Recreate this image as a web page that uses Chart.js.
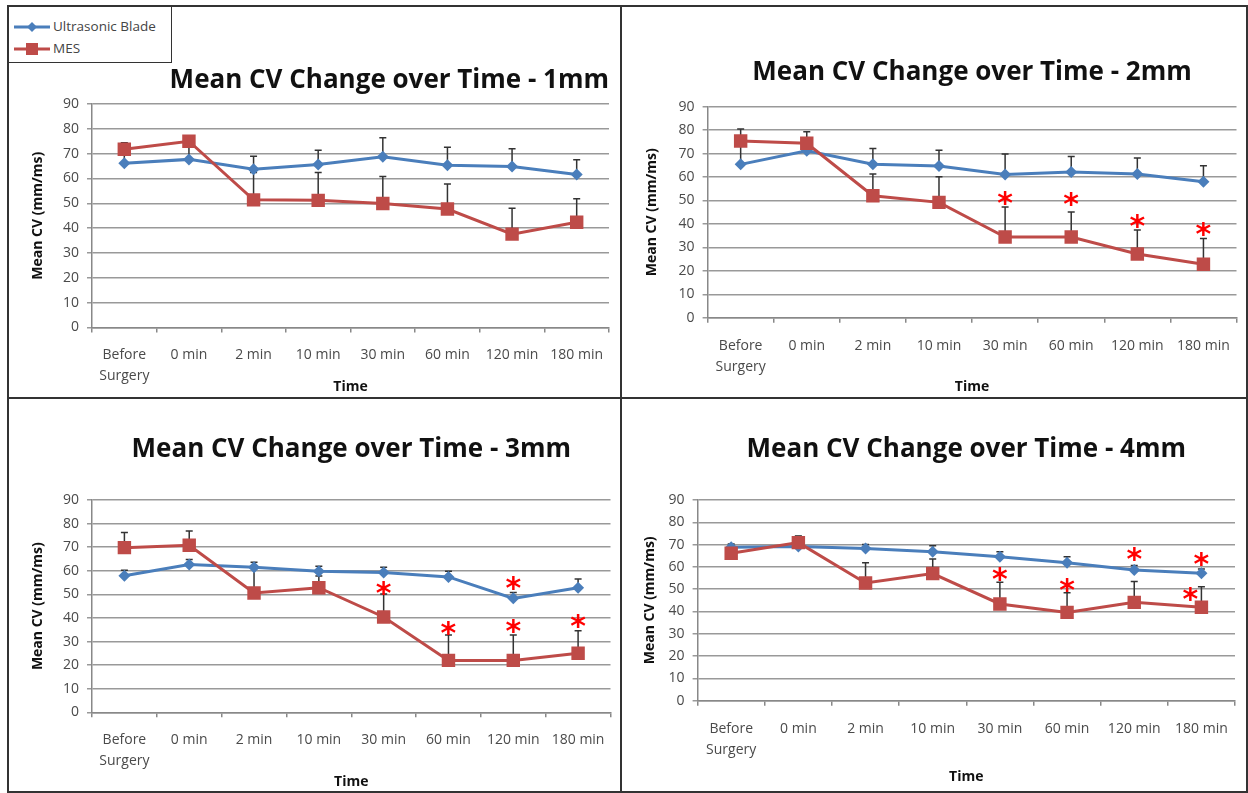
<!DOCTYPE html>
<html>
<head>
<meta charset="utf-8">
<script src="https://cdn.jsdelivr.net/npm/chart.js@4.4.1/dist/chart.umd.min.js"></script>
<style>
body { margin: 0; background: #fff; width: 1248px; height: 793px; position: relative; overflow: hidden; font-family: "Open Sans", sans-serif; }
canvas { position: absolute; }
.rule { position: absolute; background: #333; }
#legend { position: absolute; left: 8px; top: 6px; width: 162px; height: 55px; border: 1.5px solid #333; background: #fff; }
#legend .item { position: absolute; left: 5px; height: 16px; font-size: 13.5px; color: #444; line-height: 16px; }
#legend svg { vertical-align: middle; margin-right: 3px; }
</style>
</head>
<body>

<canvas id="c1" width="611" height="390" style="left:9px;top:7px"></canvas>
<canvas id="c2" width="624" height="390" style="left:622px;top:7px"></canvas>
<canvas id="c3" width="611" height="392" style="left:9px;top:399px"></canvas>
<canvas id="c4" width="624" height="392" style="left:622px;top:399px"></canvas>

<div class="rule" style="left:7px;top:5px;width:1241px;height:2px"></div>
<div class="rule" style="left:7px;top:791px;width:1241px;height:2px"></div>
<div class="rule" style="left:7px;top:5px;width:2px;height:788px"></div>
<div class="rule" style="left:1246px;top:5px;width:2px;height:788px"></div>
<div class="rule" style="left:620px;top:5px;width:2px;height:788px"></div>
<div class="rule" style="left:7px;top:397px;width:1241px;height:2px"></div>

<div id="legend">
  <div class="item" style="top:11px"><svg width="36" height="12"><line x1="0" y1="6" x2="36" y2="6" stroke="#4a7ebb" stroke-width="3"/><polygon points="18,1 23,6 18,11 13,6" fill="#4a7ebb"/></svg>Ultrasonic Blade</div>
  <div class="item" style="top:33px"><svg width="36" height="12"><line x1="0" y1="6" x2="36" y2="6" stroke="#be4b48" stroke-width="3"/><rect x="12" y="0" width="12" height="12" fill="#be4b48"/></svg>MES</div>
</div>

<script>
var times = [['Before', 'Surgery'], '0 min', '2 min', '10 min', '30 min', '60 min', '120 min', '180 min'];
var yTicks = [0, 10, 20, 30, 40, 50, 60, 70, 80, 90];

// 1mm
var blade1 = [66.1, 67.7, 63.7, 65.6, 68.8, 65.3, 64.8, 61.6];
var bladeSd1 = [8, 5, 5.3, 5.8, 7.6, 7.3, 7.2, 6.0];
var mes1 = [71.8, 75.0, 51.4, 51.2, 49.9, 47.7, 37.6, 42.4];
var mesSd1 = [2.6, 1.5, 11, 11.2, 10.9, 10.1, 10.4, 9.4];
var bladeStar1 = [null, null, null, null, null, null, null, null];
var mesStar1 = [null, null, null, null, null, null, null, null];

// 2mm
var blade2 = [65.4, 71.2, 65.5, 64.7, 61.1, 62.1, 61.3, 58.0];
var bladeSd2 = [9, 4, 6.7, 6.7, 8.7, 6.7, 6.8, 6.8];
var mes2 = [75.4, 74.4, 52.0, 49.2, 34.4, 34.4, 27.2, 22.8];
var mesSd2 = [5.1, 4.9, 9.3, 10.9, 12.8, 10.7, 10.2, 11.0];
var bladeStar2 = [null, null, null, null, null, null, null, null];
var mesStar2 = [null, null, null, null, 51.6, 51.0, 41.7, 38.1];

// 3mm
var blade3 = [57.9, 62.7, 61.5, 59.8, 59.3, 57.4, 48.3, 52.8];
var bladeSd3 = [2.3, 2.1, 2.1, 2.1, 2.2, 2.4, 2.5, 3.7];
var mes3 = [69.8, 70.8, 50.6, 52.8, 40.4, 22.0, 22.0, 25.0];
var mesSd3 = [6.4, 6.1, 10.5, 5, 9.8, 10.8, 10.8, 9.6];
var bladeStar3 = [null, null, null, null, null, null, 55.4, null];
var mesStar3 = [null, null, null, null, 53.3, 36.3, 37.0, 39.1];

// 4mm
var blade4 = [68.8, 69.1, 68.2, 66.8, 64.6, 61.9, 58.6, 57.1];
var bladeSd4 = [1.5, 4.5, 1.9, 2.7, 2.2, 2.7, 2, 2];
var mes4 = [66.1, 70.9, 52.8, 57.0, 43.4, 39.6, 44.1, 41.9];
var mesSd4 = [2, 3, 9.1, 6.5, 9.7, 8.8, 9.4, 9.2];
var bladeStar4 = [null, null, null, null, null, null, 66.4, 63.8];
var mesStar4 = [null, null, null, null, 57.1, 52.3, null, 48.4];

var BLUE = '#4a7ebb';
var RED = '#be4b48';
var FONT = '"Open Sans", sans-serif';

// error bars, only the upper half, drawn under the lines
var errorBars = {
    id: 'errorBars',
    beforeDatasetsDraw: function (chart) {
        var ctx = chart.ctx;
        var x = chart.scales.x, y = chart.scales.y;
        ctx.save();
        ctx.strokeStyle = '#333';
        ctx.lineWidth = 1.5;
        chart.data.datasets.forEach(function (ds) {
            ds.data.forEach(function (v, i) {
                var px = x.getPixelForValue(i);
                var y0 = y.getPixelForValue(v);
                var y1 = y.getPixelForValue(v + ds.sd[i]);
                ctx.beginPath();
                ctx.moveTo(px, y0);
                ctx.lineTo(px, y1);
                ctx.moveTo(px - 3.5, y1);
                ctx.lineTo(px + 3.5, y1);
                ctx.stroke();
            });
        });
        ctx.restore();
    }
};

// red asterisks for significance
var stars = {
    id: 'stars',
    afterDatasetsDraw: function (chart, args, opts) {
        var ctx = chart.ctx;
        var x = chart.scales.x, y = chart.scales.y;
        ctx.save();
        ctx.fillStyle = '#ff0000';
        ctx.font = 'bold 30px "DejaVu Sans"';
        ctx.textAlign = 'center';
        ctx.textBaseline = 'alphabetic';
        chart.data.datasets.forEach(function (ds, d) {
            ds.stars.forEach(function (v, i) {
                if (v === null) return;
                var shift = (opts.shift && opts.shift[d + ':' + i]) || 0;
                ctx.fillText('*', x.getPixelForValue(i) + shift, y.getPixelForValue(v) + 16);
            });
        });
        ctx.restore();
    }
};

function makePanel(id, title, blade, bladeSd, bladeStar, mes, mesSd, mesStar, box) {
    var ctx = document.getElementById(id);
    return new Chart(ctx, {
        type: 'line',
        data: {
            labels: times,
            datasets: [
                { label: 'Ultrasonic Blade', data: blade, sd: bladeSd, stars: bladeStar, borderColor: BLUE, backgroundColor: BLUE,
                  pointStyle: 'rectRot', pointRadius: 6, borderWidth: 3, pointBorderWidth: 0, order: 1 },
                { label: 'MES', data: mes, sd: mesSd, stars: mesStar, borderColor: RED, backgroundColor: RED,
                  pointStyle: 'rect', pointRadius: 9.5, borderWidth: 3, pointBorderWidth: 0, order: 0 }
            ]
        },
        options: {
            responsive: false,
            animation: false,
            events: [],
            layout: { padding: { right: box.padRight } },
            plugins: {
                legend: { display: false },
                tooltip: { enabled: false },
                title: {
                    display: true, text: title, fullSize: false, align: box.titleAlign, color: '#111',
                    font: { family: FONT, size: 26, weight: 'bold', lineHeight: 1.2 },
                    padding: { top: box.titleTop, bottom: box.titleBottom }
                },
                stars: { shift: box.starShift }
            },
            scales: {
                x: {
                    offset: true,
                    grid: { offset: true, drawOnChartArea: false, tickLength: 5, color: '#888', lineWidth: 1.5 },
                    border: { color: '#888', width: 1.5 },
                    ticks: { color: '#4a4a4a', font: { family: FONT, size: 14, lineHeight: 1.5 }, padding: 12.5, maxRotation: 0, autoSkip: false },
                    title: { display: true, text: 'Time', color: '#111', font: { family: FONT, size: 14, weight: 'bold', lineHeight: 1.2 }, padding: { top: 0, bottom: box.timePad } },
                    afterFit: function (s) { s.height = box.xHeight; }
                },
                y: {
                    min: 0, max: 90,
                    afterBuildTicks: function (s) { s.ticks = yTicks.map(function (v) { return { value: v }; }); },
                    grid: { color: '#999', lineWidth: 1.5, tickLength: 5 },
                    border: { color: '#888', width: 1.5 },
                    ticks: { color: '#4a4a4a', font: { family: FONT, size: 14 }, padding: 8 },
                    title: { display: true, text: 'Mean CV (mm/ms)', color: '#111', font: { family: FONT, size: 14, weight: 'bold', lineHeight: 1.2 }, padding: { top: box.yTitlePad, bottom: 0 } },
                    afterFit: function (s) { s.width = box.yWidth; }
                }
            }
        },
        plugins: [errorBars, stars]
    });
}

// title font 26 → line box 31.2, half 15.6
makePanel('c1', 'Mean CV Change over Time - 1mm', blade1, bladeSd1, bladeStar1, mes1, mesSd1, mesStar1,
    { padRight: 11, titleAlign: 'end', titleTop: 58.4, titleBottom: 7.4, xHeight: 69.5, timePad: 1.6, yWidth: 83, yTitlePad: 20.6 });
makePanel('c2', 'Mean CV Change over Time - 2mm', blade2, bladeSd2, bladeStar2, mes2, mesSd2, mesStar2,
    { padRight: 4, titleAlign: 'center', titleTop: 50.4, titleBottom: 18.1, xHeight: 79.3, timePad: 1.6, yWidth: 85.6, yTitlePad: 21.6 });
makePanel('c3', 'Mean CV Change over Time - 3mm', blade3, bladeSd3, bladeStar3, mes3, mesSd3, mesStar3,
    { padRight: 0, titleAlign: 'center', titleTop: 35.4, titleBottom: 34.4, xHeight: 78.7, timePad: 0.6, yWidth: 83, yTitlePad: 20.6 });
makePanel('c4', 'Mean CV Change over Time - 4mm', blade4, bladeSd4, bladeStar4, mes4, mesSd4, mesStar4,
    { padRight: 11, titleAlign: 'center', titleTop: 35.4, titleBottom: 34.4, xHeight: 90.3, timePad: 5.6, yWidth: 75.6, yTitlePad: 19.6, starShift: { '1:7': -11 } });
</script>
</body>
</html>
